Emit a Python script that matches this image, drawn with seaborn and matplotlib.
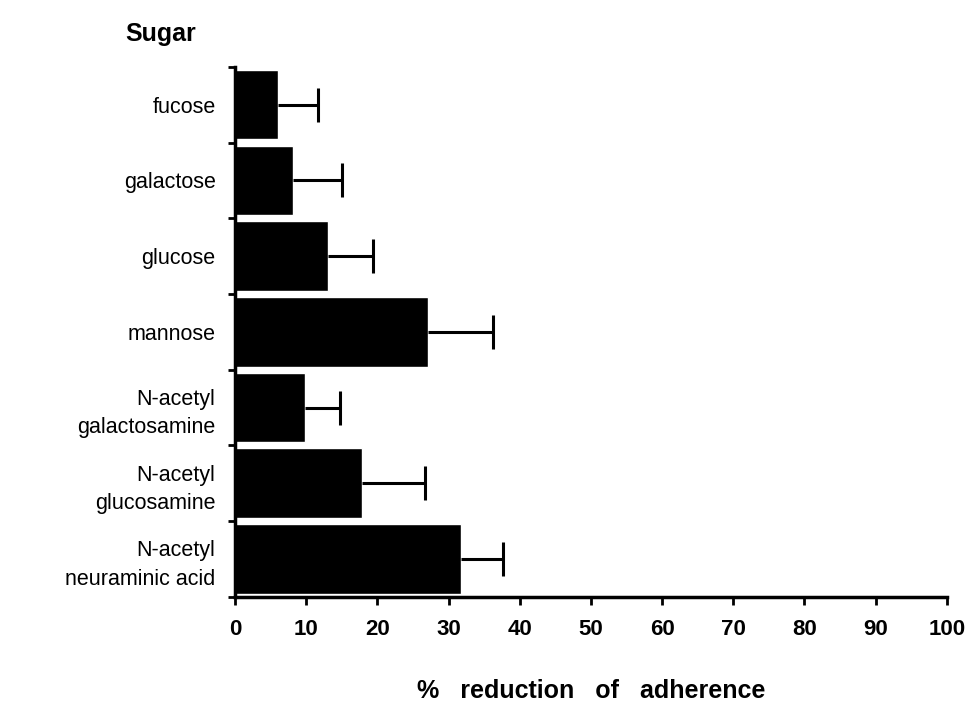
import numpy as np
import pandas as pd
import seaborn as sns
import matplotlib
matplotlib.use("Agg")
import matplotlib.pyplot as plt

# values
sugars = ["fucose", "galactose", "glucose", "mannose",
          "N-acetyl\ngalactosamine", "N-acetyl\nglucosamine",
          "N-acetyl\nneuraminic acid"]
reduction = [6.0, 8.2, 13.0, 27.1, 9.9, 17.9, 31.7]
error = [5.7, 6.8, 6.4, 9.1, 4.9, 8.8, 6.0]
x_ticks = list(range(0, 101, 10))

df = pd.DataFrame({"sugar": sugars, "reduction": reduction, "error": error})

sns.set_style("ticks")
plt.rcParams["font.family"] = ["Liberation Sans", "DejaVu Sans"]
plt.rcParams["text.color"] = "black"
plt.rcParams["xtick.color"] = "black"
plt.rcParams["ytick.color"] = "black"
plt.rcParams["axes.labelcolor"] = "black"
plt.rcParams["axes.edgecolor"] = "black"

fig = plt.figure(figsize=(9.75, 7.03), dpi=100)
ax = fig.add_axes([0.241, 0.151, 0.730, 0.754])

sns.barplot(data=df, x="reduction", y="sugar", orient="h", color="black",
            width=0.92, errorbar=None, ax=ax, saturation=1)

# one-sided error bars, cap only on the outer end
ypos = np.arange(len(sugars))
_, caps, _ = ax.errorbar(df["reduction"], ypos,
                         xerr=[np.zeros(len(sugars)), df["error"]],
                         fmt="none", ecolor="black", elinewidth=2.2,
                         capsize=12, capthick=2.2)
caps[0].set_visible(False)

ax.set_xlim(0, 100)
ax.set_ylim(len(sugars) - 0.5, -0.5)
ax.set_xticks(x_ticks)
ax.set_xticklabels([str(t) for t in x_ticks], fontsize=16, fontweight="bold")

# y tick marks between categories, labels at the centres
ax.set_yticks(ypos)
ax.set_yticklabels(sugars, fontsize=15.5, linespacing=1.45)
ax.tick_params(axis="y", length=0, pad=14)
ax.set_yticks(np.arange(-0.5, len(sugars), 1), minor=True)
ax.tick_params(axis="y", which="minor", length=5, width=2, direction="out")
ax.tick_params(axis="x", length=6, width=2, direction="out", pad=10)

for side in ["top", "right"]:
    ax.spines[side].set_visible(False)
for side in ["left", "bottom"]:
    ax.spines[side].set_linewidth(2.5)

ax.set_xlabel("%   reduction   of   adherence", fontsize=18, fontweight="bold",
              labelpad=28)
ax.set_ylabel("")
fig.text(0.128, 0.942, "Sugar", fontsize=18, fontweight="bold")

fig.savefig("out.png", dpi=100)
